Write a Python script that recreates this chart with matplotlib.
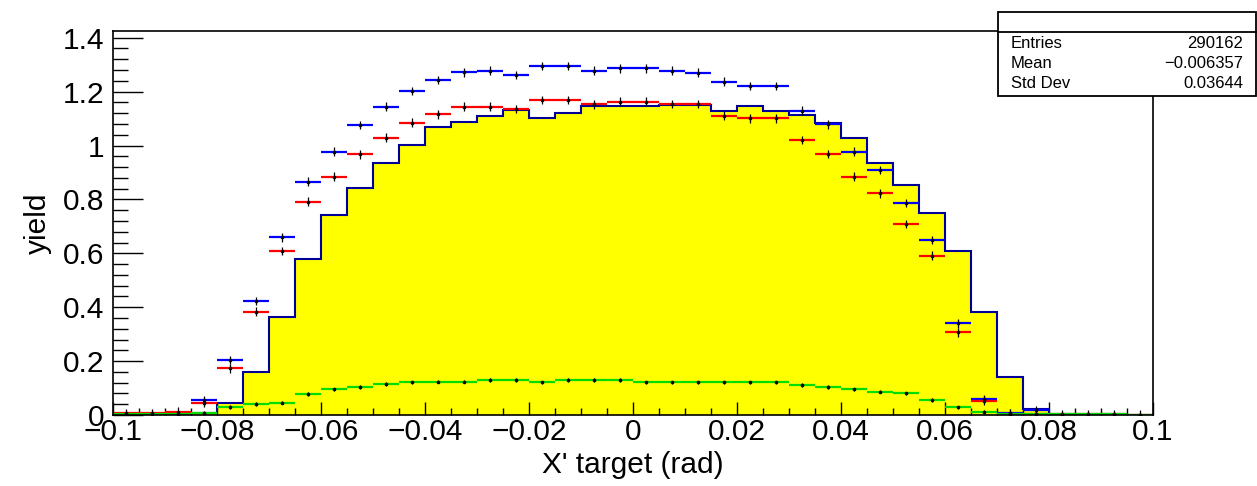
import matplotlib
matplotlib.use("Agg")
import matplotlib.pyplot as plt
import numpy as np
from matplotlib.patches import Rectangle
from matplotlib.ticker import MultipleLocator

plt.rcParams['font.family'] = ['Liberation Sans', 'DejaVu Sans']

# 40 bins from -0.1 to 0.1
bin_edges = np.linspace(-0.1, 0.1, 41)
bin_centers = 0.5 * (bin_edges[:-1] + bin_edges[1:])

# yellow filled histogram
hist_yield = [0.0, 0.001, 0.002, 0.006, 0.046, 0.16, 0.365, 0.58, 0.742, 0.841,
              0.934, 1.002, 1.067, 1.086, 1.111, 1.132, 1.103, 1.119, 1.147, 1.147,
              1.147, 1.15, 1.15, 1.129, 1.147, 1.129, 1.113, 1.082, 1.027, 0.934,
              0.853, 0.751, 0.61, 0.383, 0.14, 0.021, 0.0, 0.0, 0.0, 0.0]

# points with error bars
blue_yield = [np.nan, np.nan, np.nan, 0.054, 0.204, 0.423, 0.659, 0.866, 0.977, 1.076,
              1.144, 1.202, 1.243, 1.272, 1.278, 1.262, 1.295, 1.295, 1.278, 1.286,
              1.286, 1.278, 1.270, 1.237, 1.221, 1.221, 1.129, 1.079, 0.977, 0.909,
              0.786, 0.649, 0.340, 0.059, 0.008, 0.018, np.nan, np.nan, np.nan, np.nan]
red_yield = [0.006, 0.006, 0.012, 0.045, 0.173, 0.383, 0.608, 0.792, 0.884, 0.967,
             1.029, 1.085, 1.116, 1.144, 1.144, 1.135, 1.169, 1.169, 1.153, 1.163,
             1.163, 1.154, 1.154, 1.111, 1.101, 1.101, 1.020, 0.968, 0.884, 0.823,
             0.709, 0.591, 0.307, 0.053, 0.005, 0.004, 0.004, 0.004, 0.004, 0.001]
green_yield = [0.002, 0.002, 0.004, 0.009, 0.031, 0.040, 0.046, 0.078, 0.095, 0.105,
               0.114, 0.121, 0.124, 0.124, 0.130, 0.130, 0.121, 0.130, 0.130, 0.130,
               0.121, 0.121, 0.121, 0.121, 0.121, 0.121, 0.111, 0.105, 0.095, 0.087,
               0.080, 0.056, 0.028, 0.011, 0.005, 0.002, 0.002, 0.002, 0.002, 0.0]

stat_names = ["Entries", "Mean", "Std Dev"]
stat_values = ["290162", "\u22120.006357", "0.03644"]

W, H = 1257, 486
fig = plt.figure(figsize=(W / 100, H / 100), dpi=100)
ax = fig.add_axes([113 / W, 1 - 415 / H, (1153 - 113) / W, (415 - 30.7) / H])

# histogram
ax.stairs(hist_yield, bin_edges, fill=True, color='#ffff00', zorder=1)
ax.stairs(hist_yield, bin_edges, color='#000099', linewidth=1.5, zorder=2)

half_w = 0.5 * (bin_edges[1] - bin_edges[0])
for vals, col, err in [(blue_yield, '#0000ff', 0.016),
                       (red_yield, '#ff0000', 0.016),
                       (green_yield, '#00dd00', 0.007)]:
    ax.errorbar(bin_centers, vals, xerr=half_w, fmt='none', ecolor=col,
                elinewidth=1.6, capsize=0, zorder=3)
    ax.errorbar(bin_centers, vals, yerr=err, fmt='none', ecolor='black',
                elinewidth=0.9, capsize=0, zorder=4)
    ax.plot(bin_centers, vals, 'o', color='black', markersize=1.6, zorder=5)

ax.set_xlim(-0.1, 0.1)
ax.set_ylim(0, 1.426)


def fmt_tick(v, p, nd):
    v = round(v, nd) + 0.0
    if abs(v) < 1e-12:
        return '0'
    return ('%g' % v).replace('-', '\u2212')


ax.xaxis.set_major_locator(MultipleLocator(0.02))
ax.xaxis.set_minor_locator(MultipleLocator(0.005))
ax.yaxis.set_major_locator(MultipleLocator(0.2))
ax.yaxis.set_minor_locator(MultipleLocator(0.04))
ax.xaxis.set_major_formatter(plt.FuncFormatter(lambda v, p: fmt_tick(v, p, 3)))
ax.yaxis.set_major_formatter(plt.FuncFormatter(lambda v, p: fmt_tick(v, p, 2)))

ax.tick_params(axis='x', which='major', direction='in', length=9.5, width=1.0,
               labelsize=21.5, pad=2, top=False)
ax.tick_params(axis='x', which='minor', direction='in', length=5, width=1.0, top=False)
ax.tick_params(axis='y', which='major', direction='in', length=21.6, width=1.0,
               labelsize=21.5, pad=6, right=False)
ax.tick_params(axis='y', which='minor', direction='in', length=10.8, width=1.0, right=False)

for sp in ax.spines.values():
    sp.set_linewidth(1.2)
    sp.set_zorder(10)

ax.set_xlabel("X' target (rad)", fontsize=21.5, labelpad=4)
ax.set_ylabel("yield", fontsize=21.5, labelpad=8)

# stats box
def fx(px):
    return px / W

def fy(py):
    return 1 - py / H

box = Rectangle((fx(997.5), fy(95.7)), fx(1256) - fx(997.5), fy(11.7) - fy(95.7),
                transform=fig.transFigure, facecolor='white', edgecolor='black',
                linewidth=1.3, zorder=20)
fig.patches.append(box)
fig.add_artist(plt.Line2D([fx(997.5), fx(1256)], [fy(32.3), fy(32.3)],
                          transform=fig.transFigure, color='black', linewidth=1.3, zorder=21))
for i, (name, val) in enumerate(zip(stat_names, stat_values)):
    yy = fy(43 + i * 20.3)
    fig.text(fx(1011), yy, name, fontsize=12, ha='left', va='center', zorder=22)
    fig.text(fx(1243.5), yy, val, fontsize=12, ha='right', va='center', zorder=22)

fig.savefig("out.png", dpi=100)
